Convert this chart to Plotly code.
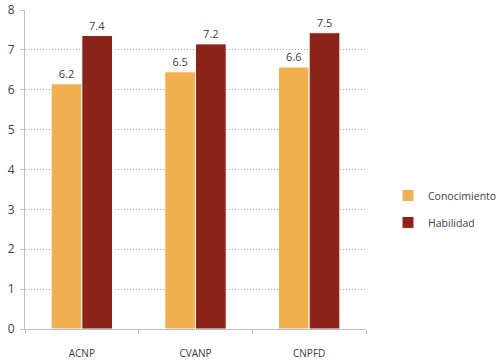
import plotly.graph_objects as go

categories = ["ACNP", "CVANP", "CNPFD"]
conocimiento = [6.15, 6.45, 6.57]
habilidad = [7.36, 7.15, 7.43]
conocimiento_labels = ["6.2", "6.5", "6.6"]
habilidad_labels = ["7.4", "7.2", "7.5"]
y_ticks = [0, 1, 2, 3, 4, 5, 6, 7, 8]

font_family = "Open Sans, Liberation Sans, sans-serif"
text_color = "#404040"

fig = go.Figure()
fig.add_trace(go.Bar(
    x=categories, y=conocimiento, name="Conocimiento",
    marker=dict(color="#F0B050", line=dict(color="white", width=1)),
    text=conocimiento_labels, textposition="outside",
    textfont=dict(size=11, color=text_color, family=font_family),
    cliponaxis=False, legendgroup="a",
))
fig.add_trace(go.Bar(
    x=categories, y=habilidad, name="Habilidad",
    marker=dict(color="#8B2318", line=dict(color="white", width=1)),
    text=habilidad_labels, textposition="outside",
    textfont=dict(size=11, color=text_color, family=font_family),
    cliponaxis=False, legendgroup="b",
))

fig.update_layout(
    width=500, height=364,
    margin=dict(l=25, r=134, t=10, b=35, autoexpand=False),
    paper_bgcolor="white", plot_bgcolor="white",
    barmode="group", bargap=0.46, bargroupgap=0,
    font=dict(family=font_family, color=text_color, size=11),
    showlegend=True,
    legend=dict(x=0.776, y=0.426, xref="container", yref="container",
                xanchor="left", yanchor="middle",
                font=dict(size=10.5, color=text_color),
                tracegroupgap=8, bgcolor="rgba(0,0,0,0)"),
    xaxis=dict(
        showline=True, linecolor="#BFBFBF", linewidth=1,
        ticks="outside", tickson="boundaries", ticklen=4, tickcolor="#BFBFBF",
        tickfont=dict(size=10, color=text_color),
        ticklabelstandoff=15, automargin=False,
    ),
    yaxis=dict(
        range=[0, 8], tickvals=y_ticks,
        showline=True, linecolor="#BFBFBF", linewidth=1,
        ticks="outside", ticklen=4, tickcolor="#BFBFBF",
        showgrid=True, gridcolor="#A6A6A6", griddash="1px,2px", gridwidth=1,
        zeroline=False,
        tickfont=dict(size=12, color=text_color),
        ticklabelstandoff=3, automargin=False,
    ),
)

fig.write_html("out.html", config={"displayModeBar": False},
               post_script="document.body.style.margin='0';")
